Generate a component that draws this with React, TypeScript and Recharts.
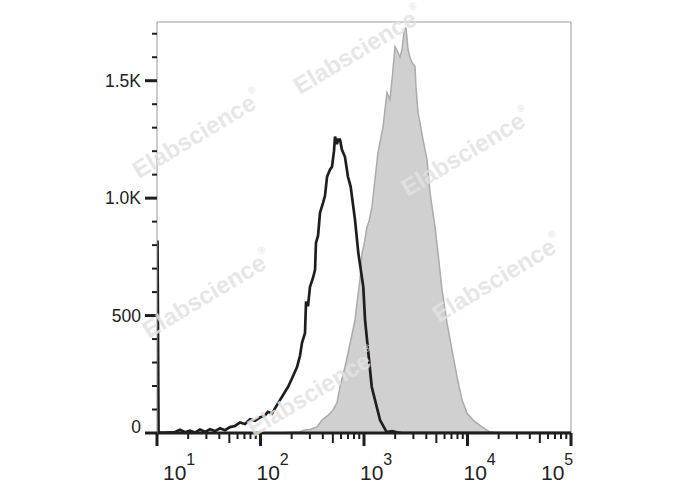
import React from 'react';
import { ComposedChart, Line, Area, XAxis, YAxis, ReferenceLine } from 'recharts';

// Fluorescence channel in decades (log10 of intensity) and event counts
const blackLogFL = [
  1.005, 1.015, 1.077, 1.174, 1.222, 1.271, 1.319, 1.367, 1.415, 1.464, 1.512, 1.56, 1.609, 1.657,
  1.705, 1.754, 1.802, 1.85, 1.899, 1.947, 1.995, 2.043, 2.072, 2.111, 2.15, 2.188, 2.227, 2.266,
  2.304, 2.353, 2.382, 2.401, 2.43, 2.44, 2.459, 2.478, 2.507, 2.527, 2.536, 2.556, 2.575, 2.604,
  2.623, 2.643, 2.671, 2.691, 2.71, 2.72, 2.739, 2.749, 2.768, 2.787, 2.816, 2.845, 2.871, 2.913,
  2.945, 2.993, 3.01, 3.042, 3.075, 3.155, 3.219, 3.271, 3.319, 3.367, 5.0,
];
const blackCounts = [
  820, 3, 2, 4, 14, 3, 10, 2, 15, 5, 16, 8, 20, 12,
  25, 30, 45, 38, 58, 52, 66, 75, 90, 82, 112, 140, 168, 196,
  232, 281, 330, 384, 426, 560, 540, 622, 660, 695, 810, 840, 938, 980,
  1010, 1091, 1121, 1134, 1200, 1262, 1230, 1249, 1249, 1206, 1176, 1091, 1049, 908,
  767, 622, 482, 341, 196, 55, 4, 8, 3, 0, 0,
];

const grayLogFL = [
  2.188, 2.285, 2.382, 2.43, 2.478, 2.546, 2.594, 2.652, 2.7, 2.739, 2.768, 2.816, 2.865, 2.913,
  2.932, 2.961, 2.981, 3.0, 3.029, 3.048, 3.077, 3.106, 3.135, 3.184, 3.222, 3.251, 3.271, 3.3,
  3.329, 3.348, 3.367, 3.386, 3.406, 3.425, 3.444, 3.464, 3.493, 3.502, 3.522, 3.541, 3.57, 3.609,
  3.638, 3.686, 3.715, 3.754, 3.802, 3.85, 3.899, 3.947, 3.995, 4.053, 4.14, 4.217, 4.285, 5.0,
];
const grayCounts = [
  0, 3, 5, 13, 15, 26, 55, 75, 98, 128, 196, 281, 380, 480,
  554, 650, 767, 800, 878, 900, 963, 1080, 1194, 1304, 1449, 1420, 1505, 1645,
  1620, 1600, 1633, 1705, 1726, 1633, 1600, 1577, 1560, 1475, 1364, 1320, 1249, 1164,
  1023, 878, 767, 610, 469, 354, 239, 141, 85, 55, 26, 4, 0, 0,
];

const yTicks = [0, 100, 200, 300, 400, 500, 600, 700, 800, 900, 1000, 1100, 1200, 1300, 1400, 1500, 1600, 1700];
const yTickLabels: Record<number, string> = { 0: '0', 500: '500', 1000: '1.0K', 1500: '1.5K' };
const decades = [1, 2, 3, 4, 5];
const decadeExponents = ['1', '2', '3', '4', '5'];
const minorMultipliers = [2, 3, 4, 5, 6, 7, 8, 9];

const watermarkText = 'Elabscience';
const watermarkCenters = [
  [358, 50],
  [197, 134],
  [466, 152],
  [207, 294],
  [497, 278],
  [312, 392],
];

const xTicks: number[] = [];
decades.forEach((d, i) => {
  xTicks.push(d);
  if (i < decades.length - 1) minorMultipliers.forEach((m) => xTicks.push(d + Math.log10(m)));
});

const rowMap = new Map<number, any>();
blackLogFL.forEach((x, i) => {
  const r = rowMap.get(x) ?? { x };
  r.black = blackCounts[i];
  rowMap.set(x, r);
});
grayLogFL.forEach((x, i) => {
  const r = rowMap.get(x) ?? { x };
  r.gray = grayCounts[i];
  rowMap.set(x, r);
});
const data = Array.from(rowMap.values()).sort((a, b) => a.x - b.x);

const FONT = '"Liberation Sans", Arial, sans-serif';
const INK = '#1e1e1e';

const YTick = (props: any) => {
  const { x, y, payload } = props;
  const v = payload.value;
  const label = yTickLabels[v];
  if (label !== undefined) {
    return (
      <g>
        <line x1={x - 12} x2={x} y1={y} y2={y} stroke={INK} strokeWidth={3} />
        <text x={x - 16} y={y + (v === 0 ? 0 : 6)} textAnchor="end" fontSize={17.5} fontFamily={FONT} fill="#222">
          {label}
        </text>
      </g>
    );
  }
  return <line x1={x - 5} x2={x} y1={y} y2={y} stroke={INK} strokeWidth={2} />;
};

const XTick = (props: any) => {
  const { x, y, payload } = props;
  const v = payload.value;
  const idx = decades.indexOf(v);
  if (idx >= 0) {
    const dx = idx === 0 ? 6 : idx === decades.length - 1 ? -30 : -4;
    return (
      <g>
        <line x1={x} x2={x} y1={y} y2={y + 13} stroke={INK} strokeWidth={3} />
        <text x={x + dx} y={480} fontFamily={FONT} fill="#222">
          <tspan fontSize={21}>10</tspan>
          <tspan fontSize={16} dy={-15}>{decadeExponents[idx]}</tspan>
        </text>
      </g>
    );
  }
  const frac = v - Math.floor(v);
  const isFive = Math.abs(frac - Math.log10(5)) < 1e-6;
  return <line x1={x} x2={x} y1={y} y2={y + (isFive ? 10 : 6)} stroke={INK} strokeWidth={2} />;
};

export default function App() {
  return (
    <div style={{ position: 'absolute', left: 0, top: 0, width: 688, height: 490, background: '#fff' }}>
      <ComposedChart
        width={688}
        height={490}
        data={data}
        margin={{ top: 22, right: 117, bottom: 27, left: 97 }}
      >
        <XAxis
          dataKey="x"
          type="number"
          domain={[1, 5]}
          ticks={xTicks}
          interval={0}
          tickSize={0}
          tickMargin={0}
          tickLine={false}
          tick={<XTick />}
          height={30}
          axisLine={{ stroke: INK, strokeWidth: 3 }}
          allowDataOverflow
        />
        <YAxis
          type="number"
          domain={[0, 1750]}
          ticks={yTicks}
          interval={0}
          tickSize={0}
          tickMargin={0}
          tickLine={false}
          tick={<YTick />}
          width={60}
          axisLine={{ stroke: '#9a9a9a', strokeWidth: 1 }}
          allowDataOverflow
        />
        <ReferenceLine y={1750} stroke="#9a9a9a" strokeWidth={1} />
        <ReferenceLine x={5} stroke="#9a9a9a" strokeWidth={1} />
        <Area
          dataKey="gray"
          type="linear"
          fill="#d0d0d0"
          fillOpacity={1}
          stroke="#ababab"
          strokeWidth={1.5}
          connectNulls
          dot={false}
          activeDot={false}
          isAnimationActive={false}
        />
        <Line
          dataKey="black"
          type="linear"
          stroke={INK}
          strokeWidth={2.7}
          connectNulls
          dot={false}
          activeDot={false}
          isAnimationActive={false}
        />
      </ComposedChart>
      <svg
        width={688}
        height={490}
        style={{ position: 'absolute', left: 0, top: 0, pointerEvents: 'none' }}
      >
        {watermarkCenters.map(([cx, cy], i) => (
          <text
            key={i}
            x={cx}
            y={cy}
            textAnchor="middle"
            dominantBaseline="central"
            transform={`rotate(-31 ${cx} ${cy})`}
            fontFamily={FONT}
            fontWeight="bold"
            fontSize={24}
            fill="#e2e2e2"
            fillOpacity={0.85}
          >
            {watermarkText}
            <tspan fontSize={10} dy={-10}>®</tspan>
          </text>
        ))}
      </svg>
    </div>
  );
}
